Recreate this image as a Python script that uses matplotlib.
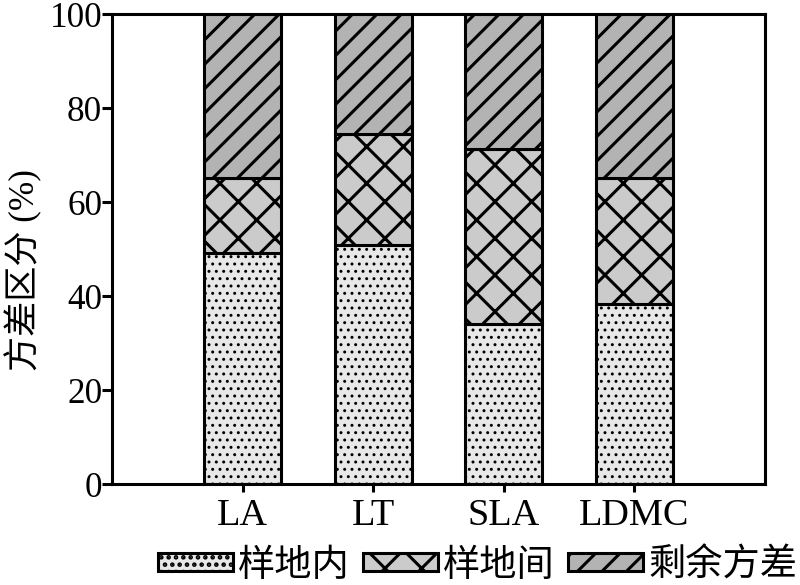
import numpy as np
import matplotlib
matplotlib.use('Agg')
import matplotlib.pyplot as plt

# data
traits = ['LA', 'LT', 'SLA', 'LDMC']
within_plot = [49.2, 50.8, 34.0, 38.2]      # 样地内
between_plot = [16.0, 23.6, 37.2, 26.9]     # 样地间
residual = [34.8, 25.6, 28.8, 34.9]         # 剩余方差
legend_names = ['样地内', '样地间', '剩余方差']
yticks = [0, 20, 40, 60, 80, 100]

plt.rcParams['font.family'] = ['Liberation Serif', 'Noto Sans CJK SC']

# hatch spacing depends on dpi, so use a small figure at high dpi
DPI = 220
fig = plt.figure(figsize=(800 / DPI, 585 / DPI), dpi=DPI)
ax = fig.add_axes([0.14, 0.1726, 0.816, 0.8034])

x = np.arange(len(traits))
w = 0.59
within_plot = np.array(within_plot)
between_plot = np.array(between_plot)
residual = np.array(residual)

styles = [
    ('#e8e8e8', '.....', 0.5),
    ('#cbcbcb', 'xx', 1.0),
    ('#b3b3b3', '///', 1.0),
]
bottoms = [np.zeros(4), within_plot, within_plot + between_plot]
handles = []
for vals, bot, (col, hat, hlw), name in zip([within_plot, between_plot, residual],
                                             bottoms, styles, legend_names):
    with plt.rc_context({'hatch.linewidth': hlw}):
        bars = ax.bar(x, vals, w, bottom=bot, color=col, edgecolor='black',
                      linewidth=1.0, hatch=hat, label=name)
    for b in bars:
        if hasattr(b, 'set_hatch_linewidth'):
            b.set_hatch_linewidth(hlw)
    handles.append(bars)

ax.set_xlim(-1, 4)
ax.set_ylim(0, 100)
ax.set_yticks(yticks)
ax.set_xticks(x)
ax.set_xticklabels(traits, fontsize=12.5)
ax.tick_params(axis='y', labelsize=11.5, width=1.0, length=3.2, direction='out', pad=0)
ax.tick_params(axis='x', width=1.0, length=2.6, direction='out', pad=2)
for s in ax.spines.values():
    s.set_linewidth(1.0)

ax.set_ylabel('方差区分 (%)', fontsize=11.5)
ax.yaxis.set_label_coords(-0.107, 0.455)

leg = fig.legend(handles=handles, labels=legend_names, loc='lower center',
                 bbox_to_anchor=(0.597, -0.055), ncol=3, frameon=False, fontsize=12.2,
                 handlelength=2.0, handleheight=0.37, handletextpad=0.15,
                 columnspacing=0.35)

fig.savefig('out.png', dpi=DPI)
